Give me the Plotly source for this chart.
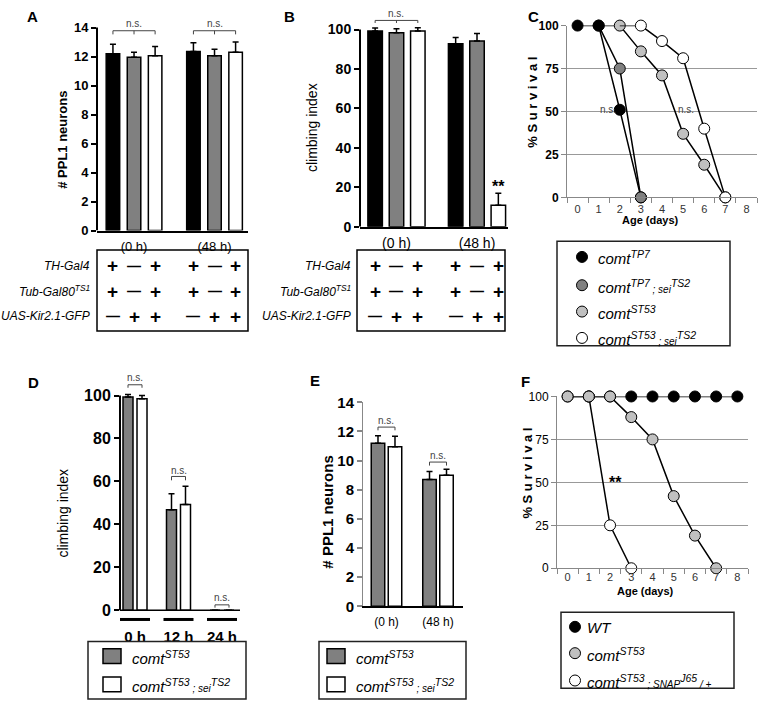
import plotly.graph_objects as go

W, H = 758, 709
FONT = "Liberation Sans, Arial, Helvetica, sans-serif"

# ---------------- DATA ----------------
# Panel A: number of PPL1 neurons
A_groups = ["(0 h)", "(48 h)"]
A_black = [12.2, 12.35]
A_black_err = [0.65, 0.6]
A_grey = [11.95, 12.05]
A_grey_err = [0.35, 0.45]
A_white = [12.05, 12.3]
A_white_err = [0.65, 0.7]

# Panel B: climbing index
B_groups = ["(0 h)", "(48 h)"]
B_black = [99.2, 92.8]
B_black_err = [1.5, 3.2]
B_grey = [98.4, 94.2]
B_grey_err = [2.0, 3.8]
B_white = [99.3, 10.9]
B_white_err = [1.6, 6.0]

# genotype table (A and B)
table_rows = ["TH-Gal4", "Tub-Gal80<sup>TS1</sup>", "UAS-Kir2.1-GFP"]
table_TH = ["+", "—", "+"]
table_Tub = ["+", "—", "+"]
table_UAS = ["—", "+", "+"]

# Panel C: survival
C_day_ticks = [0, 1, 2, 3, 4, 5, 6, 7, 8]
C_tp7_days = [0, 1, 2, 3]
C_tp7 = [100, 100, 51, 0]
C_tp7sei_days = [1, 2, 3]
C_tp7sei = [100, 75, 0]
C_st53_days = [1, 2, 3, 4, 5, 6, 7]
C_st53 = [100, 100, 85, 71, 37, 19, 0]
C_st53sei_days = [2, 3, 4, 5, 6, 7]
C_st53sei = [100, 100, 91, 81, 40, 0]

# Panel D: climbing index
D_groups = ["0 h", "12 h", "24 h"]
D_st53 = [99.3, 46.8, 0]
D_st53_err = [1.2, 7.5, 0]
D_st53sei = [98.5, 49.2, 0]
D_st53sei_err = [1.5, 8.5, 0]

# Panel E: number of PPL1 neurons
E_groups = ["(0 h)", "(48 h)"]
E_st53 = [11.2, 8.7]
E_st53_err = [0.5, 0.55]
E_st53sei = [10.95, 9.0]
E_st53sei_err = [0.72, 0.4]

# Panel F: survival
F_day_ticks = [0, 1, 2, 3, 4, 5, 6, 7, 8]
F_wt_days = [0, 1, 2, 3, 4, 5, 6, 7, 8]
F_wt = [100, 100, 100, 100, 100, 100, 100, 100, 100]
F_st53_days = [0, 1, 2, 3, 4, 5, 6, 7]
F_st53 = [100, 100, 100, 88, 75, 42, 19, 0]
F_snap_days = [1, 2, 3]
F_snap = [100, 25, 0]

# ---------------- STYLE ----------------
BLACK = "#000000"
GREY = "#808080"
LGREY = "#c0c0c0"
WHITE = "#ffffff"

fig = go.Figure()
shapes = []
annotations = []


def px(p):
    return p / W


def py(p):
    return 1 - p / H


def bar_x(n_groups, n_series, k, spacing):
    return [g + (k - (n_series - 1) / 2) * spacing for g in range(n_groups)]


def add_bars(axn, groups, series, spacing, barw):
    n = len(series)
    for k, (vals, errs, col) in enumerate(series):
        fig.add_trace(go.Bar(
            x=bar_x(len(groups), n, k, spacing), y=vals, width=barw,
            marker=dict(color=col, line=dict(color=BLACK, width=1.5)),
            error_y=dict(type="data", array=errs, arrayminus=[0] * len(errs),
                         symmetric=False, color=BLACK, thickness=1.5, width=3),
            xaxis="x" + axn, yaxis="y" + axn, showlegend=False))


def bracket(axn, xs, yh, yl, ytext):
    ref_x = "x" + axn
    ref_y = "y" + axn
    path = f"M {xs[0]},{yl} L {xs[0]},{yh} L {xs[-1]},{yh} L {xs[-1]},{yl}"
    if len(xs) == 3:
        path += f" M {xs[1]},{yh} L {xs[1]},{yl}"
    shapes.append(dict(type="path", path=path, xref=ref_x, yref=ref_y,
                       line=dict(color="#444", width=1)))
    annotations.append(dict(text="n.s.", x=sum(xs) / len(xs), y=ytext, xref=ref_x, yref=ref_y,
                            xanchor="center", yanchor="middle",
                            showarrow=False, font=dict(size=10, color="#444", family=FONT)))


def bar_axes(axn, xdom, ydom, xrange, yrange, groups, ytickvals, tickfont_size,
             xlabel_font, showyline=True, showxline=True, ylinecolor=BLACK, ylinewidth=2):
    xa = "xaxis" if axn == "" else "xaxis" + axn
    ya = "yaxis" if axn == "" else "yaxis" + axn
    fig.layout[xa] = dict(domain=[px(xdom[0]), px(xdom[1])], range=xrange,
                          anchor="y" + axn, tickvals=list(range(len(groups))), ticktext=groups,
                          ticks="", showline=showxline, linecolor=BLACK, linewidth=2,
                          showgrid=False, zeroline=False, tickfont=xlabel_font,
                          ticklabelstandoff=3, fixedrange=True)
    fig.layout[ya] = dict(domain=[py(ydom[0]), py(ydom[1])], range=yrange,
                          anchor="x" + axn, tickvals=ytickvals, ticks="outside", ticklen=5,
                          tickwidth=1.5, tickcolor=ylinecolor, showline=showyline,
                          linecolor=ylinecolor, linewidth=ylinewidth, showgrid=False,
                          zeroline=False, fixedrange=True,
                          tickfont=dict(size=tickfont_size, family=FONT, color=BLACK, weight="bold"))


def yline(axn, ytop, color=BLACK, width=2):
    shapes.append(dict(type="line", xref="x" + axn + " domain", yref="y" + axn, x0=0, x1=0,
                       y0=0, y1=ytop, line=dict(color=color, width=width)))


def ytitle(text, x, y, size, bold=True):
    annotations.append(dict(text=text, x=px(x), y=py(y), xref="paper", yref="paper",
                            textangle=-90, showarrow=False, xanchor="center", yanchor="middle",
                            font=dict(size=size, family=FONT, color=BLACK,
                                      weight="bold" if bold else "normal")))


def ptext(t, x, y, size, bold=True, color=BLACK):
    annotations.append(dict(text=t, x=px(x), y=py(y), xref="paper", yref="paper",
                            xanchor="center", yanchor="middle", showarrow=False,
                            font=dict(size=size, family=FONT, color=color,
                                      weight="bold" if bold else "normal")))


# ---------------- PANEL A ----------------
spA, bwA = 0.262, 0.168
add_bars("", A_groups, [(A_black, A_black_err, BLACK), (A_grey, A_grey_err, GREY),
                        (A_white, A_white_err, WHITE)], spA, bwA)
bar_axes("", (97, 248), (227, 10.1), [-0.46, 1.416], [0, 14.6], A_groups, list(range(0, 15, 2)), 13,
         dict(size=13, family=FONT, color=BLACK), showyline=False)
yline("", 14)
for g in range(len(A_groups)):
    bracket("", [g - spA, g, g + spA], 13.78, 13.53, 14.27)
ytitle("# PPL1 neurons", 63, 134, 13)
ptext("A", 32, 8, 15)

# ---------------- PANEL B ----------------
spB, bwB = 0.265, 0.18
add_bars("2", B_groups, [(B_black, B_black_err, BLACK), (B_grey, B_grey_err, GREY),
                         (B_white, B_white_err, WHITE)], spB, bwB)
bar_axes("2", (360, 508), (223, 0.8), [-0.453, 1.385], [0, 110], B_groups, list(range(0, 101, 20)), 14,
         dict(size=14, family=FONT, color=BLACK), showyline=False)
yline("2", 100)
bracket("2", [0 - spB, 0, 0 + spB], 104.6, 103.3, 107.9)
annotations.append(dict(text="**", x=1 + spB, y=20.5, xref="x2", yref="y2", showarrow=False,
                        xanchor="center", yanchor="middle",
                        font=dict(size=16, family=FONT, color=BLACK, weight="bold")))
ytitle("climbing index", 312, 122, 14, bold=False)
ptext("B", 289, 8, 15)

# ---------------- TABLES (A, B) ----------------
row_y = [263, 289, 315]
for axn, box, label_x in [("", (97, 248), 92), ("2", (357, 505), 353)]:
    shapes.append(dict(type="rect", xref="paper", yref="paper", x0=px(box[0]), x1=px(box[1]),
                       y0=py(330), y1=py(247), line=dict(color=BLACK, width=1.5)))
    sp = spA if axn == "" else spB
    for r, (lab, signs) in enumerate(zip(table_rows, [table_TH, table_Tub, table_UAS])):
        annotations.append(dict(text=lab, x=px(label_x), y=py(row_y[r]), xref="paper", yref="paper",
                                xanchor="right", yanchor="middle", showarrow=False,
                                font=dict(size=12, family=FONT, color=BLACK, style="italic")))
        for g in range(2):
            for k, s in enumerate(signs):
                annotations.append(dict(text=s, x=g + (k - 1) * sp, y=py(row_y[r]),
                                        xref="x" + axn, yref="paper", showarrow=False,
                                        xanchor="center", yanchor="middle",
                                        font=dict(size=19 if s == "+" else 14, family=FONT,
                                                  color=BLACK, weight="bold")))

# ---------------- PANEL C ----------------
def survival(axn, days, vals, color, opac=None):
    fig.add_trace(go.Scatter(x=days, y=vals, mode="lines+markers",
                             line=dict(color=BLACK, width=1.5),
                             marker=dict(size=11, color=color, line=dict(color=BLACK, width=1),
                                         opacity=opac if opac else 1),
                             cliponaxis=False, xaxis="x" + axn, yaxis="y" + axn, showlegend=False))


survival("3", C_st53_days, C_st53, LGREY)
survival("3", C_st53sei_days, C_st53sei, WHITE, [0, 1, 1, 1, 1, 1])
survival("3", C_tp7_days, C_tp7, BLACK)
survival("3", C_tp7sei_days, C_tp7sei, GREY, [0, 1, 1])


def surv_axes(axn, xdom, ydom, ybold, standoff):
    fig.layout["xaxis" + axn] = dict(domain=[px(xdom[0]), px(xdom[1])], range=[-0.5, 8.5],
                                     anchor="y" + axn, tickvals=C_day_ticks, ticks="",
                                     minor=dict(ticks="outside", tick0=0.5, dtick=1, ticklen=5,
                                                tickcolor="#888", tickwidth=1),
                                     showline=True, linecolor="#888", linewidth=1, showgrid=False,
                                     zeroline=False, ticklabelstandoff=standoff, fixedrange=True,
                                     tickfont=dict(size=11, family=FONT, color="#333"))
    fig.layout["yaxis" + axn] = dict(domain=[py(ydom[0]), py(ydom[1])], range=[0, 100],
                                     anchor="x" + axn, tickvals=[0, 25, 50, 75, 100], ticks="outside",
                                     ticklen=5, tickcolor="#888", showline=True, linecolor="#888",
                                     linewidth=1, showgrid=True, gridcolor="#999", gridwidth=1,
                                     zeroline=False, fixedrange=True,
                                     tickfont=dict(size=12, family=FONT, color=BLACK,
                                                   weight="bold" if ybold else "normal"))


surv_axes("3", (567, 757), (193, 17), True, 1)
annotations.append(dict(text="n.s.", x=1.42, y=51, xref="x3", yref="y3", showarrow=False,
                        xanchor="center", yanchor="middle",
                        font=dict(size=10, family=FONT, color="#444")))
annotations.append(dict(text="n.s.", x=5.15, y=51, xref="x3", yref="y3", showarrow=False,
                        xanchor="center", yanchor="middle",
                        font=dict(size=10, family=FONT, color="#444")))
ptext("Age (days)", 650, 216, 11)
ytitle("% S u r v i v a l", 533, 96, 13)
ptext("C", 533, 8, 15)

# ---------------- PANEL D ----------------
spD, bwD = 0.322, 0.23
add_bars("4", D_groups, [(D_st53, D_st53_err, GREY), (D_st53sei, D_st53sei_err, WHITE)], spD, bwD)
bar_axes("4", (120, 240), (629.2, 369.6), [-0.345, 2.414], [-6, 112], D_groups,
         list(range(0, 101, 20)), 16, dict(size=15, family=FONT, color=BLACK, weight="bold"),
         showyline=False, showxline=False)
yline("4", 100)
shapes.append(dict(type="line", xref="x4 domain", yref="y4", x0=0, x1=1, y0=0, y1=0,
                   line=dict(color=BLACK, width=1.5)))
for g in range(len(D_groups)):
    shapes.append(dict(type="line", xref="x4", yref="y4", x0=g - 0.345, x1=g + 0.345, y0=-4.3, y1=-4.3,
                       line=dict(color=BLACK, width=3)))
bracket("4", [0 - spD / 2, 0 + spD / 2], 105, 103.6, 108.6)
bracket("4", [1 - spD / 2, 1 + spD / 2], 62.3, 60.5, 65)
bracket("4", [2 - spD / 2, 2 + spD / 2], 2.5, 1.2, 5.7)
ytitle("climbing index", 63, 517, 14, bold=False)
ptext("D", 33, 383, 15)

# ---------------- PANEL E ----------------
spE, bwE = 0.33, 0.262
add_bars("5", E_groups, [(E_st53, E_st53_err, GREY), (E_st53sei, E_st53sei_err, WHITE)], spE, bwE)
bar_axes("5", (363, 463), (612, 403), [-0.456, 1.485], [0, 14], E_groups, list(range(0, 15, 2)), 15,
         dict(size=12, family=FONT, color=BLACK), ylinecolor="#888", ylinewidth=1)
bracket("5", [0 - spE / 2, 0 + spE / 2], 12.3, 12.08, 12.75)
bracket("5", [1 - spE / 2, 1 + spE / 2], 9.9, 9.66, 10.36)
ytitle("# PPL1 neurons", 328, 516, 15)
ptext("E", 315, 381, 15)

# ---------------- PANEL F ----------------
survival("6", F_wt_days, F_wt, BLACK)
survival("6", F_snap_days, F_snap, WHITE)
survival("6", F_st53_days, F_st53, LGREY)
surv_axes("6", (557, 748), (573, 397), False, -1)
annotations.append(dict(text="**", x=2.25, y=50, xref="x6", yref="y6", showarrow=False,
                        xanchor="center", yanchor="middle",
                        font=dict(size=16, family=FONT, color=BLACK, weight="bold")))
ptext("Age (days)", 645, 596, 11)
ytitle("% S u r v i v a l", 528, 476, 13)
ptext("F", 525, 382, 15)

# ---------------- LEGENDS ----------------
SEI = "<span style='font-size:10px'> ; sei</span><sup>TS2</sup>"
legC = [(BLACK, "comt<sup>TP7</sup>"), (GREY, "comt<sup>TP7</sup>" + SEI),
        (LGREY, "comt<sup>ST53</sup>"), (WHITE, "comt<sup>ST53</sup>" + SEI)]
legDE = [(GREY, "comt<sup>ST53</sup>"), (WHITE, "comt<sup>ST53</sup>" + SEI)]
legF = [(BLACK, "WT"), (LGREY, "comt<sup>ST53</sup>"),
        (WHITE, "comt<sup>ST53</sup><span style='font-size:10px'> ; SNAP</span><sup>J65</sup>"
                "<span style='font-size:10px'> / +</span>")]


def legend(box, items, ys, mx, tx, kind):
    shapes.append(dict(type="rect", xref="paper", yref="paper", x0=px(box[0]), x1=px(box[2]),
                       y0=py(box[3]), y1=py(box[1]), line=dict(color="#222", width=1.5)))
    for (col, txt), yy in zip(items, ys):
        if kind == "circle":
            shapes.append(dict(type="circle", xref="paper", yref="paper", xsizemode="pixel",
                               ysizemode="pixel", xanchor=px(mx), yanchor=py(yy),
                               x0=-5.5, x1=5.5, y0=-5.5, y1=5.5, fillcolor=col,
                               line=dict(color=BLACK, width=1)))
        else:
            shapes.append(dict(type="rect", xref="paper", yref="paper", x0=px(mx[0]), x1=px(mx[1]),
                               y0=py(yy + 7.5), y1=py(yy - 7.5), fillcolor=col,
                               line=dict(color=BLACK, width=1.5)))
        annotations.append(dict(text=txt, x=px(tx), y=py(yy + 1), xref="paper", yref="paper",
                                xanchor="left", yanchor="middle", showarrow=False,
                                font=dict(size=15, family=FONT, color=BLACK, style="italic")))


legend((557, 238, 730, 345), legC, [254, 283, 310, 337], 582, 596, "circle")
legend((88, 648, 246, 707), legDE, [663, 692], (103, 121), 130, "square")
legend((319, 648, 466, 707), legDE, [663, 692], (327, 345), 354, "square")
legend((561, 618, 734, 696), legF, [633, 660, 688], 575, 585, "circle")

fig.update_layout(width=W, height=H, margin=dict(l=0, r=0, t=0, b=0),
                  paper_bgcolor="white", plot_bgcolor="white", showlegend=False,
                  barmode="overlay", font=dict(family=FONT, color=BLACK),
                  shapes=shapes, annotations=annotations)
fig.write_html("out.html", config={"displayModeBar": False},
               post_script="document.body.style.margin='0px';document.body.style.overflow='hidden';")
